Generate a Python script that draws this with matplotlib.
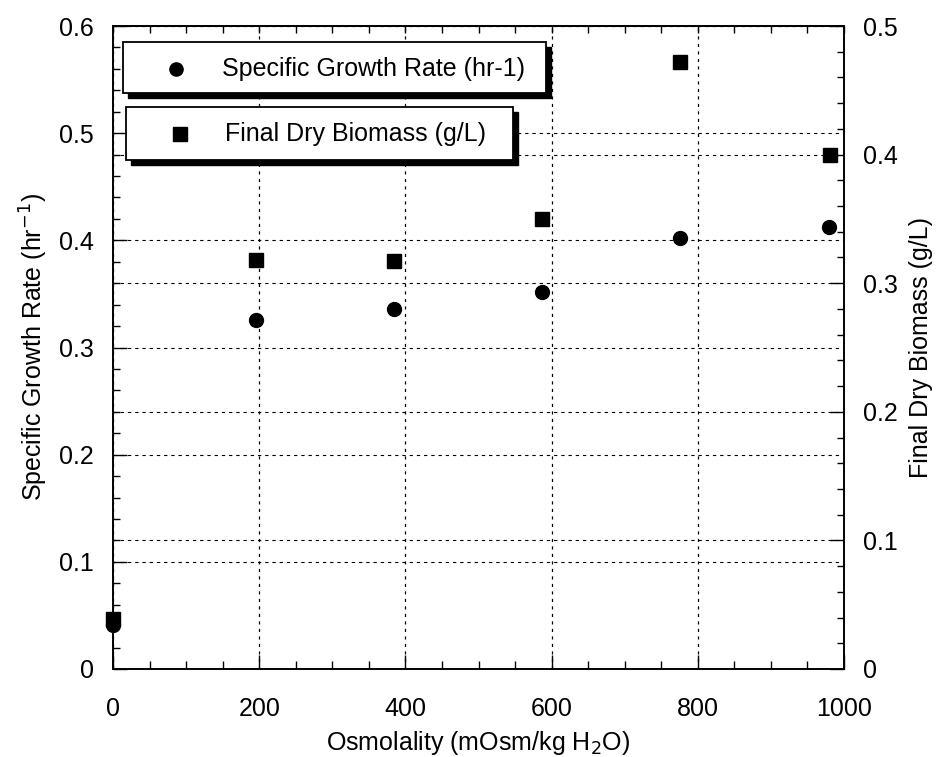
import numpy as np
import matplotlib
matplotlib.use("Agg")
import matplotlib.pyplot as plt
from matplotlib.patches import Rectangle
from matplotlib.lines import Line2D

plt.rcParams['font.family'] = ['Liberation Sans', 'DejaVu Sans']

# ---- data ----
osm_rate = [0, 196, 385, 587, 776, 980]
growth_rate = [0.041, 0.326, 0.336, 0.352, 0.402, 0.412]
osm_mass = [0, 196, 385, 587, 776, 981]
dry_biomass = [0.0385, 0.318, 0.317, 0.350, 0.472, 0.400]

x_ticks = [0, 200, 400, 600, 800, 1000]
left_ticks = [0, 0.1, 0.2, 0.3, 0.4, 0.5, 0.6]
left_labels = ['0', '0.1', '0.2', '0.3', '0.4', '0.5', '0.6']
right_ticks = [0, 0.1, 0.2, 0.3, 0.4, 0.5]
right_labels = ['0', '0.1', '0.2', '0.3', '0.4', '0.5']

legend_labels = ['Specific Growth Rate (hr-1)', 'Final Dry Biomass (g/L)']

W, H = 938, 757
fig = plt.figure(figsize=(W / 100, H / 100), dpi=100)
L, R, T, B = 113, 844, 26, 669
ax = fig.add_axes([L / W, 1 - B / H, (R - L) / W, (B - T) / H])
ax2 = ax.twinx()

fs = 18
ax.set_xlim(0, 1000)
ax.set_ylim(0, 0.6)
ax2.set_ylim(0, 0.5)

ax.set_xticks(x_ticks)
ax.set_xticks(np.arange(0, 1001, 50), minor=True)
ax.set_yticks(left_ticks)
ax.set_yticklabels(left_labels)
ax.set_yticks(np.arange(0, 0.601, 0.02), minor=True)
ax2.set_yticks(right_ticks)
ax2.set_yticklabels(right_labels)
ax2.set_yticks(np.arange(0, 0.501, 0.02), minor=True)

for a in (ax, ax2):
    for s in a.spines.values():
        s.set_linewidth(1.2)

ax.tick_params(axis='x', which='both', direction='in', top=False, labelsize=fs, pad=20, width=1.0)
ax.tick_params(axis='x', which='major', length=10)
ax.tick_params(axis='x', which='minor', length=6)
ax.tick_params(axis='y', which='both', direction='in', right=False, labelsize=fs, pad=14, width=1.0)
ax.tick_params(axis='y', which='major', length=10)
ax.tick_params(axis='y', which='minor', length=5)
ax2.tick_params(axis='y', which='both', direction='in', left=False, labelsize=fs, pad=14, width=1.0)
ax2.tick_params(axis='y', which='major', length=10)
ax2.tick_params(axis='y', which='minor', length=5)

sec = ax.secondary_xaxis('top')
sec.set_xticks(np.arange(0, 1001, 50))
sec.tick_params(direction='in', length=5, width=1.0, labeltop=False)
sec.spines['top'].set_linewidth(1.2)

# grids
ax.grid(axis='x', which='major', color='black', linestyle=(0, (2.5, 3.5)), linewidth=0.9)
ax.grid(axis='y', which='major', color='black', linestyle=(0, (3, 3.5)), linewidth=0.8)
ax2.grid(axis='y', which='major', color='black', linestyle=(0, (3, 3.5)), linewidth=0.8)

ax.set_xlabel('Osmolality (mOsm/kg H$_2$O)', fontsize=fs, labelpad=6)
ax.set_ylabel('Specific Growth Rate (hr$^{-1}$)', fontsize=fs, labelpad=6)
ax2.set_ylabel('Final Dry Biomass (g/L)', fontsize=fs, labelpad=8)

ms = 10
ax.plot(osm_rate, growth_rate, 'o', color='black', ms=ms, clip_on=False, zorder=5)
ax2.plot(osm_mass, dry_biomass, 's', color='black', ms=ms, clip_on=False, zorder=5)

# legend boxes with drop shadows (pixel layout)
def fx(px):
    return px / W

def fy(py):
    return 1 - py / H

boxes = [(123, 546, 42, 93, 176, 69, 222, 'o'),
         (126, 513, 107, 160, 180, 134, 225, 's')]
sh = 5
for (x0, x1, y0, y1, mx, my, tx, mk), lab in zip(boxes, legend_labels):
    fig.add_artist(Rectangle((fx(x0 + sh), fy(y1 + sh)), fx(x1 - x0), (y1 - y0) / H,
                             transform=fig.transFigure, facecolor='black',
                             edgecolor='black', zorder=20))
    fig.add_artist(Rectangle((fx(x0), fy(y1)), fx(x1 - x0), (y1 - y0) / H,
                             transform=fig.transFigure, facecolor='white',
                             edgecolor='black', linewidth=1.3, zorder=21))
    fig.add_artist(Line2D([fx(mx)], [fy(my)], marker=mk, color='black', ms=ms - 0.5,
                          linestyle='none', transform=fig.transFigure, zorder=22))
    fig.text(fx(tx), fy(my), lab, fontsize=fs, va='center', ha='left', zorder=22)

fig.savefig('out.png', dpi=100, facecolor='white')
